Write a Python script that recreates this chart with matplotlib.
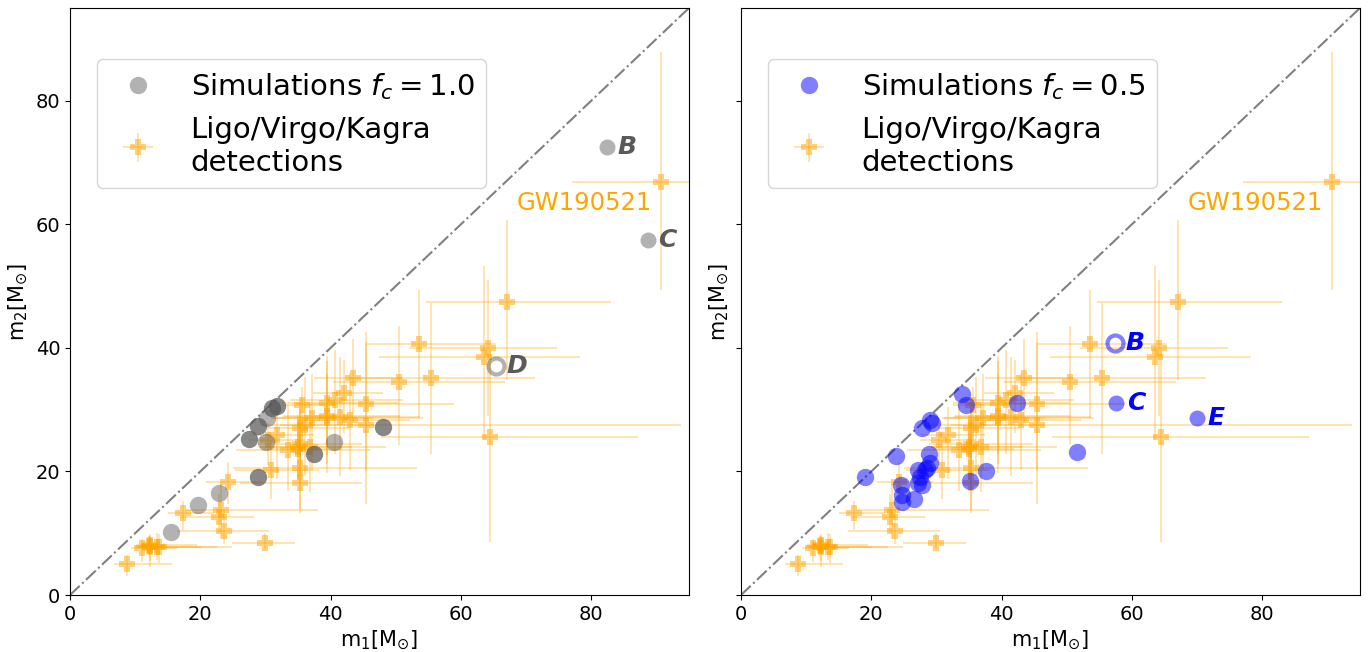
import matplotlib.pyplot as plt
import numpy as np

# LVK detections (source-frame masses)
gw_m1 = [8.7, 11.0, 12.1, 12.3, 12.3, 13.4, 13.7, 17.4, 23.1, 22.9, 23.6, 24.3,
         29.9, 30.9, 30.4, 31.7, 33.5, 35.0, 35.0, 35.3, 35.3, 36.8, 35.3, 35.6,
         35.3, 36.1, 37.1, 39.4, 39.4, 39.5, 40.7, 41.5, 42.1, 43.5, 43.0, 45.5,
         45.4, 50.5, 53.6, 55.4, 64.1, 63.6, 67.1, 64.4, 90.7]
gw_m1_lo = [2.0, 1.7, 2.0, 2.2, 2.3, 3.0, 3.2, 2.3, 5.5, 5.8, 7.2, 3.4,
            5.1, 5.6, 3.0, 4.0, 8.1, 5.6, 5.9, 6.4, 10.3, 7.6, 9.2, 3.1,
            4.7, 7.0, 6.2, 6.9, 8.2, 6.7, 6.9, 9.0, 4.8, 6.1, 8.1, 13.3,
            10.7, 10.2, 8.0, 12.7, 12.0, 16.2, 12.4, 16.6, 13.6]
gw_m1_hi = [7.0, 5.5, 2.6, 7.2, 12.5, 6.7, 8.8, 4.7, 14.9, 5.3, 7.0, 5.1,
            4.7, 7.3, 5.6, 5.8, 12.6, 6.9, 8.3, 9.5, 18.0, 11.7, 9.5, 4.7,
            7.5, 10.6, 9.5, 10.9, 14.7, 11.2, 10.4, 12.2, 5.9, 7.6, 9.2, 48.3,
            13.5, 16.2, 11.8, 16.0, 10.7, 14.6, 16.0, 22.7, 29.3]
gw_m2 = [5.0, 7.6, 7.9, 8.1, 7.8, 7.8, 7.7, 13.2, 13.8, 12.7, 10.3, 18.3,
         8.4, 20.2, 25.1, 25.9, 23.5, 23.7, 24.0, 24.4, 20.5, 24.0, 18.1, 30.7,
         27.0, 27.5, 28.6, 31.0, 28.6, 29.0, 31.6, 28.8, 32.7, 35.2, 28.3, 27.5,
         30.9, 34.4, 40.7, 35.1, 40.0, 38.6, 47.4, 25.6, 66.9]
gw_m2_lo = [1.9, 2.2, 1.3, 2.6, 3.3, 2.2, 2.5, 2.7, 4.8, 2.5, 2.1, 3.6,
            0.9, 4.6, 4.0, 7.2, 6.7, 5.1, 5.2, 6.1, 7.2, 7.3, 4.1, 4.4,
            5.2, 8.2, 8.4, 8.3, 8.8, 7.8, 8.8, 9.5, 6.4, 7.2, 8.0, 12.7,
            10.8, 10.1, 12.0, 12.3, 11.1, 13.3, 12.6, 17.0, 17.5]
gw_m2_hi = [1.4, 1.4, 1.6, 1.7, 1.7, 2.3, 2.2, 2.0, 4.1, 3.6, 3.6, 3.3,
            1.6, 4.9, 2.8, 4.6, 7.3, 5.2, 5.1, 5.6, 9.0, 7.0, 7.7, 3.0,
            4.3, 7.8, 7.1, 7.7, 9.3, 6.7, 8.0, 9.7, 5.4, 6.3, 7.7, 13.4,
            11.7, 9.1, 8.7, 12.2, 11.0, 14.6, 13.3, 14.3, 21.0]

# simulations f_c = 1.0
sim1_m1 = [15.5, 19.6, 22.8, 30.1, 30.3, 40.5]
sim1_m2 = [10.2, 14.6, 16.5, 24.8, 28.6, 24.8]
sim1_dark_m1 = [28.9, 27.5, 28.9, 31.0, 31.8, 37.4, 48.0]
sim1_dark_m2 = [19.1, 25.2, 27.3, 30.2, 30.6, 22.8, 27.2]
sim1_named = {'B': (82.4, 72.5), 'C': (88.7, 57.4)}
sim1_open = {'D': (65.4, 37.1)}

# simulations f_c = 0.5
sim05_m1 = [19.0, 23.8, 27.8, 29.0, 29.3, 33.9, 34.6, 42.4, 37.6, 35.1, 28.9,
            29.0, 28.6, 27.2, 28.3, 27.5, 27.8, 27.2, 26.5, 24.7, 24.7, 24.5, 51.6]
sim05_m2 = [19.1, 22.5, 27.1, 28.3, 27.8, 32.6, 30.7, 31.0, 20.0, 18.5, 22.8,
            21.3, 20.5, 20.3, 20.2, 19.1, 17.8, 18.1, 15.5, 16.2, 15.1, 17.8, 23.2]
sim05_named = {'C': (57.6, 31.1), 'E': (70.0, 28.7)}
sim05_open = {'B': (57.4, 40.8)}

orange_mk = (1.0, 0.647, 0.0, 0.5)
orange_err = (1.0, 0.647, 0.0, 0.4)

fig, axes = plt.subplots(1, 2, figsize=(13.7, 6.52), sharey=True)
plt.subplots_adjust(left=0.0511, right=0.9927, bottom=0.0874, top=0.9877, wspace=0.084)

panels = [
    (axes[0], '1.0', sim1_named, sim1_open),
    (axes[1], '0.5', sim05_named, sim05_open),
]

for i, (ax, fc, named, opened) in enumerate(panels):
    ax.plot([0, 100], [0, 100], '-.', color='gray', lw=1.5, zorder=1)
    if i == 0:
        h1, = ax.plot(sim1_m1, sim1_m2, 'o', color='#555555', alpha=0.45, ms=12.5, mew=0,
                      ls='none', zorder=3, label=r'Simulations $f_c=%s$' % fc)
        ax.plot(sim1_dark_m1, sim1_dark_m2, 'o', color='#555555', alpha=0.7,
                ms=12.5, mew=0, ls='none', zorder=3)
        pcol = '#555555'
        palpha = 0.45
        tcol = '#5a5a5a'
    else:
        h1, = ax.plot(sim05_m1, sim05_m2, 'o', color='blue', alpha=0.5, ms=12.5, mew=0,
                      ls='none', zorder=3, label=r'Simulations $f_c=%s$' % fc)
        pcol = 'blue'
        palpha = 0.5
        tcol = 'blue'
    h2 = ax.errorbar(gw_m1, gw_m2, xerr=[gw_m1_lo, gw_m1_hi], yerr=[gw_m2_lo, gw_m2_hi],
                     fmt='P', color=orange_mk, ecolor=orange_err, ms=11, mew=0,
                     elinewidth=1.1, zorder=2, label='Ligo/Virgo/Kagra\ndetections')
    for name, (x, y) in named.items():
        ax.plot(x, y, 'o', color=pcol, alpha=palpha, ms=11.5, mew=0, zorder=3)
        ax.text(x + 1.6, y, name, color=tcol, fontsize=18, fontweight='bold',
                fontstyle='italic', va='center', ha='left')
    for name, (x, y) in opened.items():
        ax.plot(x, y, 'o', mfc='none', mec=pcol, alpha=palpha, ms=11.5, mew=3, zorder=3)
        ax.text(x + 1.6, y, name, color=tcol, fontsize=18, fontweight='bold',
                fontstyle='italic', va='center', ha='left')
    ax.text(68.6, 63.4, 'GW190521', color='orange', fontsize=17.5, va='center', ha='left')
    ax.set_xlim(0, 95)
    ax.set_ylim(0, 95)
    ax.set_xticks([0, 20, 40, 60, 80])
    ax.set_yticks([0, 20, 40, 60, 80])
    ax.tick_params(labelsize=14)
    ax.set_xlabel(r'm$_1$[M$_{\odot}$]', fontsize=15)
    ax.set_ylabel(r'm$_2$[M$_{\odot}$]', fontsize=15)
    ax.legend(handles=[h1, h2], loc='upper left', bbox_to_anchor=(0.044, 0.913),
              borderaxespad=0, fontsize=21)

fig.savefig('out.png', dpi=100)
